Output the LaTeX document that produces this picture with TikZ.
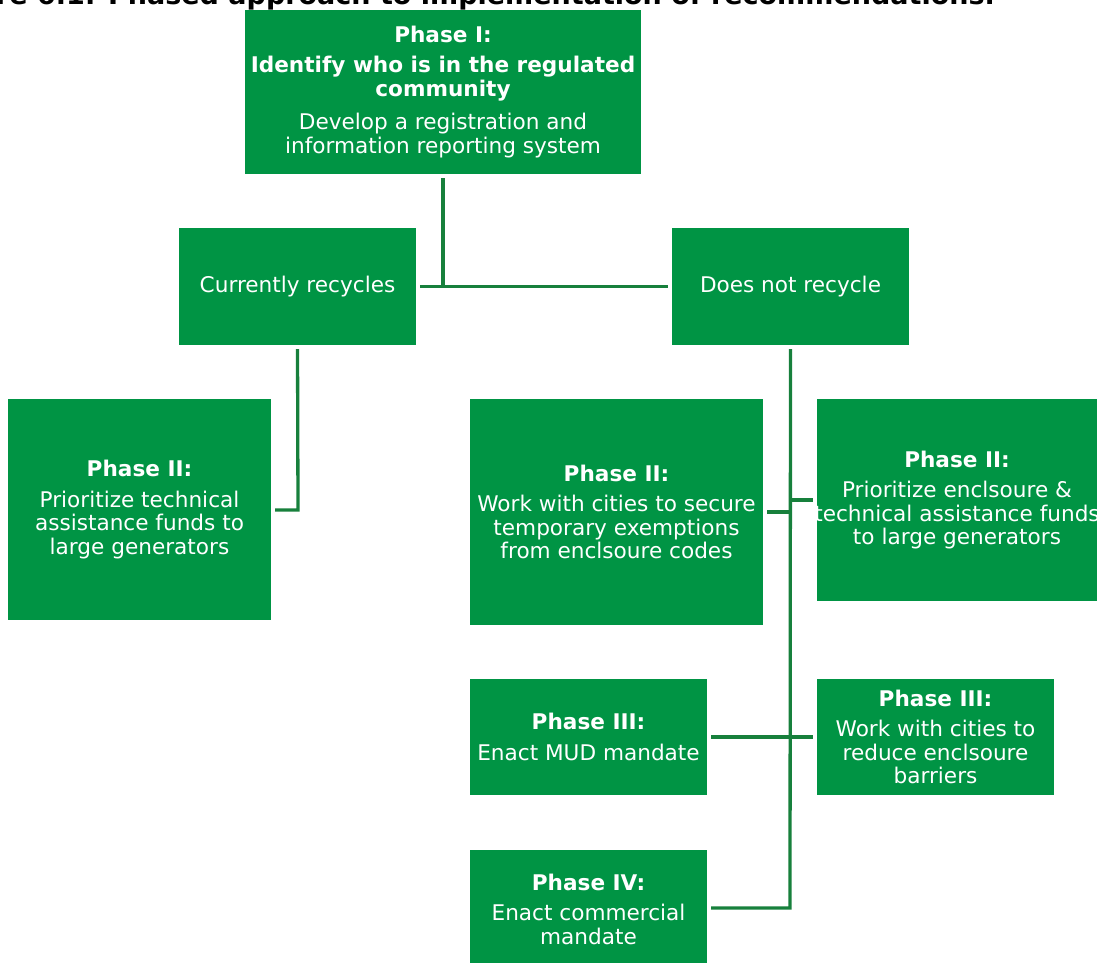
\documentclass[tikz,border=0pt]{standalone}
\usepackage{fontspec}
\setmainfont{DejaVu Sans}
\definecolor{boxgreen}{HTML}{009444}
\definecolor{linegreen}{HTML}{17803C}
\begin{document}
\begin{tikzpicture}[x=1pt,y=-1pt,
  gbox/.style={fill=boxgreen, draw=none, inner sep=0pt, align=center, text=white,
    font=\fontsize{21.6}{23.5}\selectfont},
  conn/.style={draw=linegreen, line width=3.3pt},
  gap/.style={shorten <=4pt, shorten >=4pt}]
\useasboundingbox (0,0) rectangle (1099,962);
\clip (0,0) rectangle (1099,962);
% title (cut at the top)
\node[anchor=base east, font=\bfseries\fontsize{27}{29}\selectfont, inner sep=0pt] (title) at (995,4)
  {Figure 6.1: Phased approach to implementation of recommendations.};
% boxes
\node[gbox, minimum width=396pt, minimum height=164pt] (p1) at (443,92)
  {\textbf{Phase I:}\\[7pt]\textbf{Identify who is in the regulated}\\\textbf{community}\\[10pt]Develop a registration and\\information reporting system};
\node[gbox, minimum width=237pt, minimum height=117pt] (cr) at (297.5,286.5) {Currently recycles};
\node[gbox, minimum width=237pt, minimum height=117pt] (dn) at (790.5,286.5) {Does not recycle};
\node[gbox, minimum width=263pt, minimum height=221pt] (l2) at (139.5,509.5)
  {\textbf{Phase II:}\\[7pt]Prioritize technical\\assistance funds to\\large generators};
\node[gbox, minimum width=293pt, minimum height=226pt] (m2) at (616.5,512)
  {\textbf{Phase II:}\\[7pt]Work with cities to secure\\temporary exemptions\\from enclsoure codes};
\node[gbox, minimum width=280pt, minimum height=202pt] (r2) at (957,500)
  {\textbf{Phase II:}\\[7pt]Prioritize enclsoure \&\\\makebox[0pt]{technical assistance funds}\\to large generators};
\node[gbox, minimum width=237pt, minimum height=116pt] (l3) at (588.5,737)
  {\textbf{Phase III:}\\[7pt]Enact MUD mandate};
\node[gbox, minimum width=237pt, minimum height=116pt] (r3) at (935.5,737)
  {\textbf{Phase III:}\\[7pt]Work with cities to\\reduce enclsoure\\barriers};
\node[gbox, minimum width=237pt, minimum height=118pt] (p4) at (588.5,909)
  {\textbf{Phase IV:}\\[7pt]Enact commercial\\mandate};
% junction coordinates
\coordinate (j1) at (443,287);
\coordinate (j4) at (790,908);
% connectors
\draw[conn, shorten <=4pt] (p1.south) -- (j1);
\draw[conn, gap] (cr.east) -- (dn.west);
\draw[conn, shorten <=4pt] (cr.south) -- (298,510) -- ([xshift=4pt]l2.east |- 0,510);
\draw[conn, shorten <=4pt] (dn.south) -- (j4) -- ([xshift=4pt]p4.east |- j4);
\draw[conn] ([xshift=4pt]m2.east |- 0,512) -- (789,512);
\draw[conn] (791,500) -- ([xshift=-4pt]r2.west |- 0,500);
\draw[conn, gap] (l3.east) -- (r3.west);
\end{tikzpicture}
\end{document}
